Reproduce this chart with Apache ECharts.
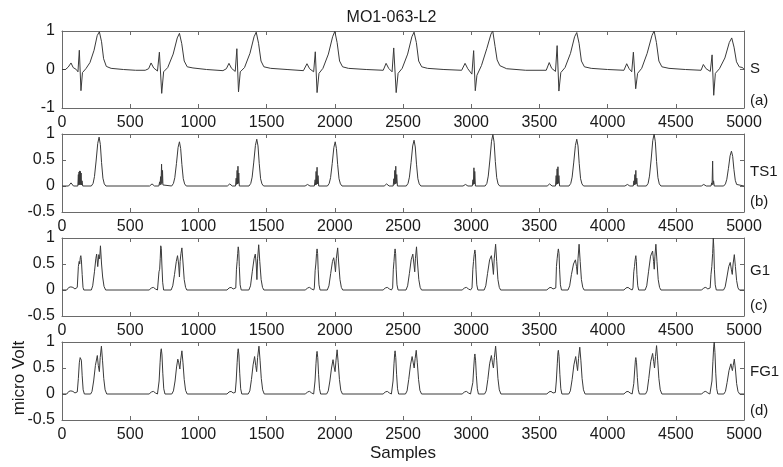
<!DOCTYPE html>
<html>
<head>
<meta charset="utf-8">
<script src="https://cdn.jsdelivr.net/npm/echarts@6/dist/echarts.min.js"></script>
<style>
  html, body { margin: 0; padding: 0; background: #fff; }
  #chart { width: 783px; height: 467px; }
</style>
</head>
<body>
<div id="chart"></div>
<script>
// values, [sample, value]
var sData = [
  [0,0.0],[25,0.0],[45,0.06],[66,0.17],[82,0.05],[105,0.0],[117,-0.06],[127,0.5],[139,-0.55],[150,-0.08],[175,0.02],[205,0.18],[235,0.5],[258,0.88],[274,0.98],[290,0.72],[305,0.28],[325,0.08],[360,0.03],[450,0.0],[540,-0.02],[610,-0.02],
  [635,0.02],[653,0.17],[672,0.04],[700,-0.04],[714,0.45],[731,-0.62],[745,-0.06],[775,0.05],[815,0.4],[845,0.82],[861,0.94],[878,0.67],[896,0.22],[918,0.07],[960,0.04],[1060,0.0],[1180,-0.03],
  [1205,0.02],[1224,0.16],[1243,0.03],[1270,-0.05],[1282,0.54],[1294,-0.58],[1307,-0.06],[1338,0.05],[1378,0.42],[1408,0.85],[1424,0.97],[1441,0.68],[1459,0.22],[1480,0.07],[1530,0.03],[1650,0.0],[1770,-0.03],
  [1782,0.02],[1796,0.15],[1815,0.02],[1845,-0.06],[1857,0.46],[1870,-0.6],[1884,-0.1],[1913,0.03],[1953,0.4],[1984,0.85],[2000,0.99],[2017,0.7],[2035,0.22],[2057,0.07],[2100,0.03],[2230,0.0],[2355,-0.02],
  [2362,0.02],[2376,0.16],[2395,0.03],[2420,-0.06],[2432,0.56],[2450,-0.6],[2464,-0.1],[2494,0.03],[2534,0.4],[2565,0.85],[2581,0.97],[2598,0.7],[2615,0.22],[2637,0.07],[2680,0.03],[2800,0.0],[2930,-0.02],
  [2940,0.02],[2955,0.16],[2975,0.02],[3005,-0.12],[3018,0.49],[3030,-0.55],[3042,-0.15],[3075,0.1],[3115,0.55],[3145,0.92],[3158,1.0],[3175,0.6],[3190,0.25],[3210,0.1],[3260,0.02],[3400,-0.02],[3550,-0.02],
  [3558,0.03],[3572,0.18],[3590,0.03],[3618,-0.05],[3630,0.62],[3643,-0.56],[3657,-0.08],[3688,0.05],[3728,0.42],[3758,0.85],[3774,0.96],[3791,0.68],[3808,0.22],[3830,0.07],[3880,0.03],[4000,0.0],[4120,-0.02],
  [4126,0.02],[4140,0.15],[4158,0.02],[4177,-0.06],[4189,0.45],[4206,-0.5],[4220,-0.1],[4250,0.03],[4290,0.42],[4325,0.88],[4341,1.0],[4358,0.7],[4376,0.22],[4398,0.07],[4450,0.03],[4570,0.0],[4685,-0.02],
  [4690,0.02],[4702,0.13],[4722,0.02],[4753,-0.05],[4766,0.38],[4778,-0.67],[4790,-0.1],[4820,0.02],[4860,0.3],[4892,0.7],[4910,0.82],[4927,0.58],[4945,0.2],[4965,0.07],[4990,0.05],[4993,0.0],[5000,0.0]
];

var ts1Data = [
  [0,0],[48,0],[66,0.06],[84,0],
  [116,0],[120,0.22],[122,0.02],[125,0.27],[127,0.03],[130,0.29],[132,0.02],[135,0.28],[137,0.03],[140,0.25],[143,0.02],[147,0.1],[152,0],
  [215,0],[228,0.05],[238,0.18],[250,0.48],[262,0.82],[272,0.94],[281,0.8],[290,0.45],[300,0.15],[310,0.04],[322,0],
  [642,0],[660,0.04],[678,0],
  [710,0],[716,0.08],[719,0.02],[723,0.18],[726,0.03],[730,0.42],[733,0.05],[737,0.3],[740,0.02],[745,0],
  [804,0],[817,0.05],[827,0.16],[839,0.43],[851,0.74],[861,0.85],[870,0.72],[879,0.41],[889,0.14],[899,0.04],[911,0],
  [1212,0],[1230,0.04],[1248,0],
  [1272,0],[1277,0.15],[1280,0.03],[1284,0.3],[1287,0.04],[1290,0.38],[1293,0.05],[1296,0.25],[1300,0],
  [1371,0],[1384,0.05],[1394,0.17],[1406,0.46],[1418,0.78],[1428,0.9],[1437,0.77],[1446,0.43],[1456,0.14],[1466,0.04],[1478,0],
  [1782,0],[1800,0.03],[1818,0],
  [1850,0],[1856,0.12],[1859,0.02],[1863,0.28],[1866,0.03],[1870,0.36],[1873,0.04],[1877,0.2],[1882,0],
  [1946,0],[1959,0.05],[1969,0.16],[1981,0.43],[1993,0.74],[2003,0.85],[2012,0.72],[2021,0.41],[2031,0.14],[2041,0.04],[2053,0],
  [2362,0],[2380,0.04],[2398,0],
  [2428,0],[2433,0.14],[2436,0.03],[2440,0.3],[2443,0.04],[2447,0.38],[2450,0.05],[2454,0.22],[2459,0],
  [2524,0],[2537,0.05],[2547,0.17],[2559,0.45],[2571,0.77],[2581,0.88],[2590,0.75],[2599,0.42],[2609,0.14],[2619,0.04],[2631,0],
  [2940,0],[2958,0.03],[2976,0],
  [3008,0],[3013,0.12],[3016,0.03],[3020,0.35],[3023,0.04],[3026,0.28],[3031,0],
  [3102,0],[3115,0.05],[3125,0.19],[3137,0.5],[3149,0.86],[3159,0.99],[3168,0.84],[3177,0.47],[3187,0.16],[3197,0.04],[3209,0],
  [3557,0],[3575,0.04],[3593,0],
  [3618,0],[3623,0.2],[3626,0.03],[3630,0.33],[3633,0.04],[3636,0.37],[3639,0.05],[3643,0.2],[3648,0],
  [3717,0],[3730,0.05],[3740,0.17],[3752,0.46],[3764,0.78],[3774,0.9],[3783,0.77],[3792,0.43],[3802,0.14],[3812,0.04],[3824,0],
  [4127,0],[4145,0.03],[4163,0],
  [4188,0],[4193,0.1],[4196,0.02],[4200,0.22],[4203,0.03],[4207,0.3],[4210,0.04],[4214,0.15],[4218,0],
  [4284,0],[4297,0.05],[4307,0.19],[4319,0.5],[4331,0.87],[4341,1.0],[4350,0.85],[4359,0.47],[4369,0.16],[4379,0.04],[4391,0],
  [4687,0],[4705,0.03],[4723,0],
  [4758,0],[4763,0.06],[4766,0.02],[4770,0.48],[4773,0.03],[4777,0.1],[4782,0],
  [4851,0],[4864,0.04],[4874,0.13],[4886,0.34],[4898,0.58],[4908,0.67],[4917,0.57],[4926,0.32],[4936,0.11],[4946,0.03],[4958,0],[5000,0]
];

var g1Data = [
  [0,0],[35,0],[50,0.05],[65,0.06],[80,0.05],[95,0.02],[108,0],
  [112,0.05],[120,0.45],[126,0.55],[130,0.5],[134,0.62],[138,0.66],[142,0.58],[148,0.3],[154,0.05],[160,0],
  [215,0],[225,0.08],[238,0.35],[248,0.6],[254,0.69],[262,0.45],[270,0.68],[276,0.6],[282,0.85],[290,0.5],[298,0.25],[308,0.07],[320,0],
  [640,0],[655,0.04],[670,0.05],[685,0.02],[700,0],
  [706,0.03],[711,0.35],[716,0.4],[720,0.6],[724,0.85],[728,0.8],[732,0.5],[738,0.15],[745,0],
  [800,0],[812,0.08],[825,0.3],[838,0.55],[847,0.66],[855,0.5],[861,0.25],[866,0.55],[872,0.7],[879,0.81],[888,0.5],[896,0.2],[906,0.05],[915,0],
  [1210,0],[1225,0.04],[1240,0.05],[1255,0.02],[1268,0],
  [1274,0.04],[1279,0.4],[1284,0.55],[1288,0.7],[1292,0.83],[1296,0.75],[1300,0.45],[1306,0.1],[1314,0],
  [1370,0],[1382,0.08],[1395,0.35],[1408,0.6],[1417,0.69],[1424,0.5],[1429,0.2],[1434,0.6],[1442,0.87],[1450,0.55],[1460,0.2],[1470,0.05],[1480,0],
  [1785,0],[1800,0.04],[1815,0.05],[1830,0.02],[1845,0],
  [1850,0.04],[1856,0.38],[1861,0.5],[1866,0.7],[1870,0.79],[1874,0.7],[1878,0.4],[1884,0.1],[1892,0],
  [1945,0],[1957,0.08],[1970,0.32],[1983,0.55],[1992,0.62],[1999,0.5],[2005,0.35],[2011,0.6],[2021,0.81],[2029,0.5],[2038,0.2],[2048,0.05],[2058,0],
  [2355,0],[2370,0.04],[2385,0.05],[2400,0.02],[2415,0],
  [2424,0.04],[2429,0.4],[2434,0.55],[2438,0.7],[2442,0.79],[2446,0.7],[2450,0.4],[2456,0.1],[2464,0],
  [2522,0],[2534,0.08],[2547,0.32],[2560,0.58],[2572,0.69],[2580,0.5],[2586,0.35],[2591,0.6],[2599,0.83],[2607,0.5],[2616,0.2],[2626,0.05],[2636,0],
  [2935,0],[2950,0.04],[2965,0.05],[2980,0.02],[2995,0],
  [3006,0.04],[3012,0.4],[3017,0.55],[3022,0.68],[3027,0.77],[3031,0.7],[3035,0.4],[3041,0.1],[3049,0],
  [3095,0],[3107,0.08],[3120,0.32],[3135,0.58],[3148,0.66],[3156,0.5],[3163,0.3],[3169,0.6],[3179,0.88],[3187,0.55],[3196,0.2],[3206,0.05],[3216,0],
  [3555,0],[3570,0.04],[3585,0.05],[3600,0.02],[3614,0],
  [3620,0.04],[3625,0.45],[3630,0.6],[3635,0.72],[3639,0.79],[3644,0.7],[3648,0.4],[3654,0.1],[3662,0],
  [3710,0],[3722,0.08],[3735,0.3],[3750,0.5],[3764,0.58],[3772,0.45],[3778,0.3],[3783,0.6],[3791,0.88],[3799,0.55],[3808,0.2],[3818,0.05],[3828,0],
  [4120,0],[4135,0.04],[4150,0.05],[4165,0.02],[4180,0],
  [4186,0.04],[4192,0.35],[4197,0.45],[4202,0.58],[4207,0.66],[4211,0.55],[4215,0.3],[4221,0.08],[4228,0],
  [4275,0],[4287,0.08],[4300,0.35],[4315,0.65],[4330,0.75],[4337,0.55],[4342,0.4],[4347,0.65],[4354,0.88],[4362,0.55],[4371,0.2],[4381,0.05],[4391,0],
  [4690,0],[4705,0.04],[4720,0.05],[4735,0.02],[4748,0],
  [4752,0.04],[4758,0.3],[4764,0.45],[4770,0.7],[4775,1.0],[4779,0.8],[4783,0.4],[4789,0.1],[4797,0],
  [4850,0],[4862,0.06],[4875,0.25],[4888,0.45],[4899,0.53],[4907,0.4],[4914,0.3],[4920,0.5],[4929,0.68],[4937,0.45],[4946,0.18],[4956,0.04],[4966,0],[5000,0]
];

var fg1Data = [
  [0,0],[35,0],[50,0.05],[65,0.06],[80,0.05],[95,0.02],[108,0],
  [112,0.04],[120,0.3],[127,0.6],[133,0.7],[137,0.72],[142,0.65],[148,0.35],[155,0.08],[164,0],
  [210,0],[220,0.05],[232,0.25],[245,0.55],[259,0.74],[266,0.55],[274,0.43],[280,0.7],[289,0.92],[297,0.65],[306,0.3],[316,0.08],[328,0],
  [640,0],[655,0.04],[670,0.05],[685,0.02],[700,0],
  [704,0.03],[712,0.25],[719,0.6],[724,0.82],[728,0.87],[733,0.75],[739,0.4],[746,0.1],[755,0],
  [805,0],[817,0.06],[829,0.25],[840,0.52],[849,0.67],[856,0.6],[864,0.48],[870,0.65],[879,0.83],[887,0.6],[896,0.28],[906,0.07],[918,0],
  [1210,0],[1225,0.04],[1240,0.05],[1255,0.02],[1268,0],
  [1270,0.03],[1277,0.25],[1284,0.6],[1289,0.82],[1292,0.87],[1297,0.75],[1303,0.4],[1310,0.1],[1318,0],
  [1365,0],[1377,0.06],[1389,0.28],[1401,0.56],[1412,0.72],[1420,0.55],[1427,0.43],[1434,0.7],[1444,0.92],[1452,0.65],[1461,0.3],[1471,0.08],[1483,0],
  [1785,0],[1800,0.04],[1815,0.05],[1830,0.02],[1845,0],
  [1848,0.03],[1855,0.25],[1862,0.58],[1867,0.78],[1870,0.82],[1875,0.7],[1881,0.38],[1888,0.1],[1896,0],
  [1940,0],[1952,0.06],[1964,0.25],[1976,0.5],[1987,0.66],[1995,0.52],[2002,0.43],[2009,0.65],[2017,0.85],[2025,0.6],[2034,0.28],[2044,0.07],[2056,0],
  [2355,0],[2370,0.04],[2385,0.05],[2400,0.02],[2415,0],
  [2420,0.03],[2427,0.25],[2434,0.58],[2439,0.78],[2442,0.83],[2447,0.7],[2453,0.38],[2460,0.1],[2468,0],
  [2518,0],[2530,0.06],[2542,0.28],[2555,0.56],[2567,0.72],[2575,0.6],[2582,0.5],[2589,0.68],[2597,0.84],[2605,0.6],[2614,0.28],[2624,0.07],[2636,0],
  [2935,0],[2950,0.04],[2965,0.05],[2980,0.02],[2995,0],
  [3005,0.03],[3012,0.22],[3019,0.52],[3024,0.72],[3027,0.77],[3032,0.65],[3038,0.35],[3045,0.1],[3053,0],
  [3098,0],[3110,0.06],[3122,0.28],[3135,0.58],[3148,0.74],[3156,0.6],[3163,0.5],[3170,0.7],[3179,0.92],[3187,0.65],[3196,0.3],[3206,0.08],[3218,0],
  [3555,0],[3570,0.04],[3585,0.05],[3600,0.02],[3614,0],
  [3617,0.03],[3624,0.25],[3631,0.58],[3636,0.8],[3639,0.84],[3644,0.72],[3650,0.38],[3657,0.1],[3665,0],
  [3715,0],[3727,0.06],[3740,0.28],[3753,0.56],[3766,0.72],[3774,0.56],[3780,0.45],[3787,0.68],[3796,0.9],[3804,0.65],[3813,0.3],[3823,0.08],[3835,0],
  [4120,0],[4135,0.04],[4150,0.05],[4165,0.02],[4180,0],
  [4185,0.03],[4192,0.2],[4199,0.48],[4204,0.66],[4207,0.7],[4212,0.6],[4218,0.32],[4225,0.08],[4233,0],
  [4278,0],[4290,0.06],[4302,0.3],[4316,0.62],[4330,0.78],[4338,0.62],[4344,0.5],[4351,0.72],[4359,0.93],[4367,0.65],[4376,0.3],[4386,0.08],[4398,0],
  [4690,0],[4705,0.04],[4720,0.05],[4735,0.02],[4750,0],
  [4758,0.03],[4765,0.25],[4772,0.62],[4778,0.92],[4782,1.0],[4787,0.8],[4793,0.4],[4800,0.1],[4808,0],
  [4852,0],[4864,0.05],[4876,0.22],[4890,0.45],[4904,0.58],[4910,0.5],[4915,0.45],[4921,0.55],[4929,0.67],[4937,0.48],[4946,0.2],[4956,0.05],[4968,0],[5000,0]
];

var panelNames = ["S", "TS1", "G1", "FG1"];
var panelTags = ["(a)", "(b)", "(c)", "(d)"];
var yMins = [-1, -0.5, -0.5, -0.5];
var yMaxs = [1, 1, 1, 1];
var yIntervals = [1, 0.5, 0.5, 0.5];
var xMin = 0, xMax = 5000, xInterval = 500;

var seriesData = [sData, ts1Data, g1Data, fg1Data];
var gridTops = [31, 134, 238, 342];
var gridHeights = [77, 78, 78, 78];
var nameY = [70, 173, 272, 373];
var tagY = [102, 203, 307, 412];

var font = "Liberation Sans, Arial, sans-serif";
var boxColor = "#6a6a6a";
var textColor = "#1a1a1a";

function plain(v) {
  return String(v);
}

var grids = [], xAxes = [], yAxes = [], series = [], graphics = [];
for (var i = 0; i < 4; i++) {
  grids.push({ left: 62, right: 39, top: gridTops[i], height: gridHeights[i] });
  var tick = { show: true, inside: true, length: 4, lineStyle: { color: boxColor } };
  var line = { show: true, onZero: false, lineStyle: { color: boxColor, width: 1 } };
  xAxes.push({
    type: "value", gridIndex: i, position: "bottom",
    min: xMin, max: xMax, interval: xInterval,
    axisLine: line, axisTick: tick, splitLine: { show: false },
    axisLabel: { fontSize: 16, color: textColor, fontFamily: font, margin: 7, formatter: plain }
  });
  xAxes.push({
    type: "value", gridIndex: i, position: "top",
    min: xMin, max: xMax, interval: xInterval,
    axisLine: line, axisTick: tick, splitLine: { show: false },
    axisLabel: { show: false }
  });
  yAxes.push({
    type: "value", gridIndex: i, position: "left",
    min: yMins[i], max: yMaxs[i], interval: yIntervals[i],
    axisLine: line, axisTick: tick, splitLine: { show: false },
    axisLabel: { fontSize: 16, color: textColor, fontFamily: font, margin: 7, formatter: plain }
  });
  yAxes.push({
    type: "value", gridIndex: i, position: "right",
    min: yMins[i], max: yMaxs[i], interval: yIntervals[i],
    axisLine: line, axisTick: tick, splitLine: { show: false },
    axisLabel: { show: false }
  });
  series.push({
    name: panelNames[i], type: "line",
    xAxisIndex: i * 2, yAxisIndex: i * 2,
    data: seriesData[i],
    showSymbol: false, symbol: "none",
    lineStyle: { color: "#3a3a3a", width: 1 }
  });
  graphics.push({
    type: "text", left: 750, top: nameY[i] - 9,
    style: { text: panelNames[i], font: "15px " + font, fill: textColor }
  });
  graphics.push({
    type: "text", left: 750, top: tagY[i] - 9,
    style: { text: panelTags[i], font: "15px " + font, fill: textColor }
  });
}

graphics.push({
  type: "text", x: 19, y: 378, rotation: Math.PI / 2,
  style: { text: "micro Volt", font: "17px " + font, fill: textColor, textAlign: "center", textVerticalAlign: "middle" }
});
graphics.push({
  type: "text", x: 403, y: 453,
  style: { text: "Samples", font: "17px " + font, fill: textColor, textAlign: "center", textVerticalAlign: "middle" }
});

var myChart = echarts.init(document.getElementById("chart"));
var option = {
  animation: false,
  backgroundColor: "#fff",
  title: {
    text: "MO1-063-L2",
    left: "center",
    top: 5,
    textStyle: { fontSize: 16, fontWeight: "normal", color: textColor, fontFamily: font }
  },
  grid: grids,
  xAxis: xAxes,
  yAxis: yAxes,
  series: series,
  graphic: graphics
};
myChart.setOption(option, true);
</script>
</body>
</html>
